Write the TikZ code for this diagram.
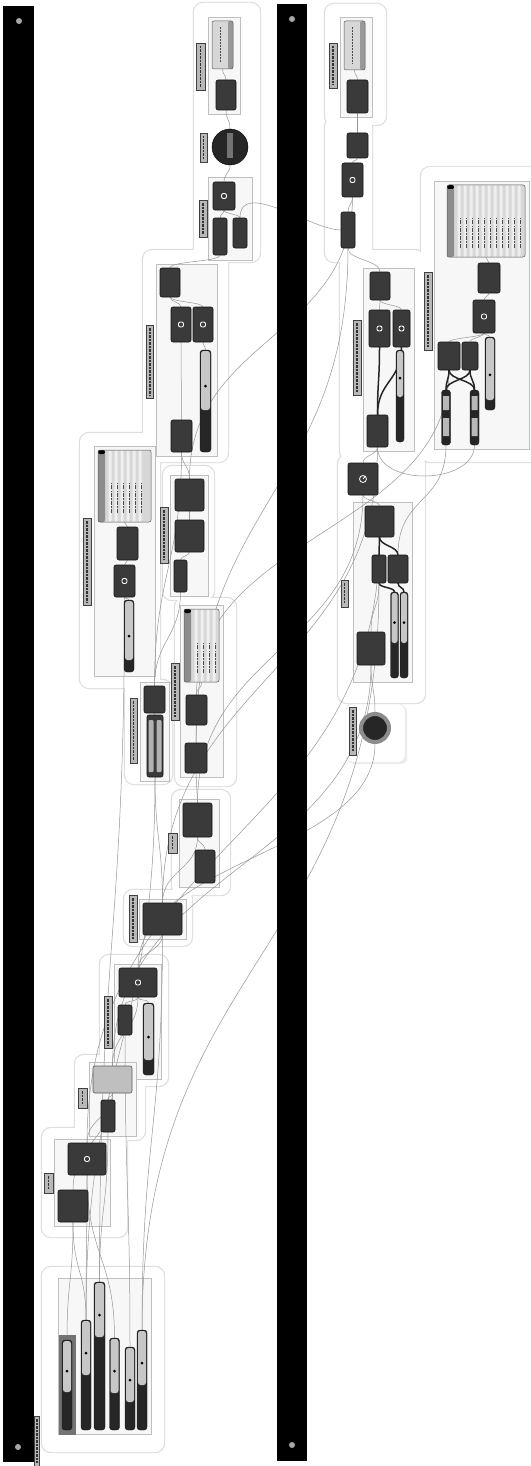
\documentclass[tikz,border=0pt]{standalone}
\usepackage{xcolor}
\usetikzlibrary{fit,shadows}
\definecolor{ghcomp}{RGB}{58,58,58}
\definecolor{ghedge}{RGB}{20,20,20}
\definecolor{ghpanel}{RGB}{215,215,215}
\definecolor{ghwire}{RGB}{150,150,150}
\definecolor{ghline}{RGB}{222,222,222}
\pgfdeclarelayer{bg}
\pgfdeclarelayer{wirelayer}
\pgfdeclarelayer{fore}
\pgfsetlayers{bg,wirelayer,main,fore}

% slider: [width]{name}{x}{top}{split}{bottom}
\newcommand{\gslider}[6][10]{%
  \node[slider, minimum width=#1, minimum height={#6-#4}] (#2) at (#3,{(#4+#6)/2}) {};
  \fill[black!22, rounded corners=2.5pt] ({#3-#1/2+1},{#4+1}) rectangle ({#3+#1/2-1},#5);
  \fill[black] (#3,{#4+(#5-#4)*0.6}) circle (1.5);
}
% wire from output (top of #2) to input (bottom of #3)
\newcommand{\gwire}[3][40]{\draw[wire] (#2.north) .. controls +(0,-#1) and +(0,#1) .. (#3.south);}
\newcommand{\gtwire}[3][10]{\draw[twire] (#2.north) .. controls +(0,-#1) and +(0,#1) .. (#3.south);}
\newcommand{\leftblob}{(194,3) rectangle (260,262) (143,250) rectangle (228,462)
  (80,433) rectangle (160,688) (163,466) rectangle (214,600) (175,598) rectangle (236,786)
  (125,680) rectangle (172,784) (172,790) rectangle (230,895) (124,890) rectangle (192,946)
  (100,955) rectangle (168,1086) (75,1055) rectangle (145,1140) (42,1128) rectangle (127,1237)
  (42,1267) rectangle (164,1452)}
\newcommand{\rightblob}{(325,4) rectangle (386,125) (325,118) rectangle (372,262)
  (340,250) rectangle (424,460) (421,167) rectangle (545,462) (338,455) rectangle (425,703)}

\begin{document}
\begin{tikzpicture}[x=1pt, y=-1pt,
  sz/.style 2 args={minimum width=#1, minimum height=#2},
  comp/.style={draw=ghedge, fill=ghcomp, rounded corners=2pt, inner sep=0pt, outer sep=0pt, line width=.6pt},
  lcomp/.style={comp, fill=black!25, draw=black!65},
  icon/.style={path picture={\draw[white, line width=.9pt]
      ([xshift=-2.5pt,yshift=-2.5pt]path picture bounding box.center) rectangle ++(5pt,5pt);}},
  panel/.style={draw=black!65, fill=ghpanel, rounded corners=2pt, inner sep=0pt, line width=.5pt},
  tpanel/.style={panel, path picture={
      \fill[black!40] ([xshift=-5pt]path picture bounding box.north east) rectangle (path picture bounding box.south east);
      \draw[black!70, line width=1pt, dash pattern=on 2pt off 1pt]
        ([xshift=-2pt,yshift=-6pt]path picture bounding box.north) -- ([xshift=-2pt,yshift=6pt]path picture bounding box.south);}},
  listpanel/.style={panel, path picture={
      \fill[black!45] (path picture bounding box.north west) rectangle ([xshift=7pt]path picture bounding box.south west);
      \fill[black] (path picture bounding box.north west) rectangle ([xshift=7pt,yshift=-4pt]path picture bounding box.north west);
      \foreach \k in {1,...,#1}{
        \fill[white!60!ghpanel] ([xshift=4.5pt+\k*6pt]path picture bounding box.south west) rectangle ([xshift=7.5pt+\k*6pt]path picture bounding box.north west);
        \draw[black!70, line width=.8pt, dash pattern=on 4pt off 1.2pt on 1.5pt off 1.2pt]
          ([xshift=7pt+\k*6pt, yshift=9pt]path picture bounding box.south west) -- ++(0pt,30pt);}}},
  slider/.style={draw=ghedge, fill=black!85, rounded corners=3pt, inner sep=0pt, outer sep=0pt},
  tagbox/.style={draw=black!75, fill=black!28, line width=.5pt, inner sep=0pt, path picture={
      \draw[black!80, line width=1.2pt, dash pattern=on 2.5pt off 1pt]
        ([yshift=-3pt]path picture bounding box.north) -- ([yshift=3pt]path picture bounding box.south);}},
  grp/.style={draw=black!25, fill=black!3, inner sep=4pt, line width=.4pt},
  blob/.style={draw=ghline, line width=2.4pt, rounded corners=9pt},
  wire/.style={draw=ghwire, line width=.5pt},
  twire/.style={draw=black!85, line width=1.5pt}
]
\useasboundingbox (0,0) rectangle (530,1466);

% ---- left canvas, top of the chain
\node[tpanel, sz={21}{48}] (pA) at (222.5,45) {};
\node[comp, sz={20}{30}] (cA) at (226,95) {};
\node[circle, fill=black!85, draw=black, minimum size=36, inner sep=0pt] (cir1) at (230,147) {};
\fill[black!55] (227,133) rectangle (233,158);
\node[comp, icon, sz={22}{28}] (cB1) at (224,196) {};
\node[comp, sz={14}{37}] (cB2) at (220,236.5) {};
\node[comp, sz={14}{30}] (cB3) at (240,233) {};

\node[comp, sz={20}{29}] (cC1) at (170,282.5) {};
\node[comp, icon, sz={20}{35}] (cC2) at (181,324.5) {};
\node[comp, icon, sz={20}{35}] (cC3) at (203,324.5) {};
\node[comp, sz={21}{32}] (cC4) at (181.5,436) {};
\gslider[11]{sC}{205.5}{350}{410}{452}

\node[listpanel=6, sz={53}{72}] (pD) at (124.5,486) {};
\node[comp, sz={21}{33}] (cD1) at (127.5,543.5) {};
\node[comp, icon, sz={21}{32}] (cD2) at (124.5,581) {};
\gslider{sD}{129}{600}{660}{672}

\node[comp, sz={29}{32}] (cE1) at (189.5,495) {};
\node[comp, sz={29}{32}] (cE2) at (189.5,536) {};
\node[comp, sz={13}{32}] (cE3) at (180.5,576) {};

\node[listpanel=4, sz={35}{73}] (pF) at (201.5,645.5) {};
\node[comp, sz={21}{30}] (cF1) at (196.5,710) {};
\node[comp, sz={22}{30}] (cF2) at (196,758) {};

\node[comp, sz={21}{27}] (cG1) at (154.5,699.5) {};
\node[comp, sz={16}{62}] (cG2) at (155,746) {};
\fill[black!30, rounded corners=1pt] (148.5,720) rectangle (153.5,772) (156.5,720) rectangle (161.5,772);

\node[comp, sz={29}{34}] (cH1) at (197.5,820) {};
\node[comp, sz={20}{33}] (cH2) at (205,866.5) {};
\node[comp, sz={39}{32}] (cI1) at (162.5,919) {};

\node[comp, icon, sz={38}{29}] (cJ1) at (138,982.5) {};
\node[comp, sz={14}{30}] (cJ2) at (125,1020) {};
\gslider[11]{sJ}{148.5}{1003}{1060}{1075}

\node[lcomp, sz={39}{27}] (cK1) at (112.5,1079.5) {};
\node[comp, sz={14}{32}] (cK2) at (108,1116) {};
\node[comp, icon, sz={38}{32}] (cL1) at (87,1159) {};
\node[comp, sz={30}{32}] (cL2) at (73,1206) {};

% sliders
\fill[black!55] (59,1335) rectangle (76,1435);
\gslider{s1}{67}{1340}{1392}{1430}
\gslider{s2}{86}{1320}{1375}{1430}
\gslider[11]{s3}{99.5}{1282}{1337}{1430}
\gslider{s4}{114.5}{1338}{1393}{1430}
\gslider{s5}{130}{1347}{1402}{1430}
\gslider{s6}{142}{1330}{1385}{1430}

% ---- right canvas
\node[tpanel, sz={21}{49}] (pR1) at (354.5,45.5) {};
\node[comp, sz={21}{33}] (cR1) at (357.5,96.5) {};
\node[comp, sz={21}{25}] (cR2) at (357.5,145.5) {};
\node[comp, icon, sz={21}{34}] (cR3) at (352.5,180) {};
\node[comp, sz={14}{36}] (cR4) at (348,230) {};

\node[listpanel=11, sz={78}{72}] (pR2) at (486,221) {};
\node[comp, sz={22}{30}] (cR2a) at (489,278) {};
\node[comp, icon, sz={22}{33}] (cR2b) at (484,316.5) {};
\node[comp, sz={22}{28}] (cR2c) at (449,356) {};
\node[comp, sz={16}{28}] (cR2d) at (470,356) {};
\gslider{sR2c}{490}{337}{400}{410}
\node[slider, sz={9}{55}] (sR2a) at (446,417.5) {};
\node[slider, sz={9}{55}] (sR2b) at (474.5,417.5) {};
\fill[black!28] (443,396) rectangle (449,410) (443,418) rectangle (449,436)
  (471.5,396) rectangle (477.5,410) (471.5,418) rectangle (477.5,436);

\node[comp, sz={20}{28}] (cR3a) at (380,286) {};
\node[comp, icon, sz={21}{37}] (cR3b) at (379.5,328.5) {};
\node[comp, icon, sz={17}{37}] (cR3c) at (401.5,328.5) {};
\gslider[8]{sR3}{400}{350}{397}{442}
\node[comp, sz={21}{32}] (cR3d) at (377.5,431) {};
\node[comp, sz={30}{32}] (cGauge) at (363,479) {};
\draw[white, line width=.8pt] (363,479) circle (3.5) (363,479) -- (365.5,476);

\node[comp, sz={29}{31}] (cR4a) at (379.5,521.5) {};
\node[comp, sz={14}{28}] (cR4b) at (379,569) {};
\node[comp, sz={20}{28}] (cR4c) at (398,569) {};
\gslider[8]{sR4a}{394.5}{592}{643}{678}
\gslider[8]{sR4b}{404}{592}{643}{678}
\node[comp, sz={28}{33}] (cR4d) at (371,648.5) {};
\node[circle, fill=black!85, draw=black!45, line width=4pt, minimum size=28, inner sep=0pt] (cir2) at (375,728) {};

% ---- group labels
\node[tagbox, sz={9}{47}] (tA) at (200.5,66.5) {};
\node[tagbox, sz={7}{29}] (tCir) at (203.5,147.5) {};
\node[tagbox, sz={8}{37}] (tB) at (203,218.5) {};
\node[tagbox, sz={7}{73}] (tC) at (150,361.5) {};
\node[tagbox, sz={8}{87}] (tD) at (87,561.5) {};
\node[tagbox, sz={8}{56}] (tE) at (164,535) {};
\node[tagbox, sz={8}{57}] (tF) at (175,691.5) {};
\node[tagbox, sz={7}{65}] (tG) at (133.5,730.5) {};
\node[tagbox, sz={9}{20}] (tH) at (172.5,843) {};
\node[tagbox, sz={8}{47}] (tI) at (133,918.5) {};
\node[tagbox, sz={8}{52}] (tJ) at (108,1022) {};
\node[tagbox, sz={9}{20}] (tK) at (82.5,1098) {};
\node[tagbox, sz={9}{20}] (tL) at (48.5,1183) {};
\node[tagbox, sz={5}{50}] (tZ) at (37,1441) {};
\node[tagbox, sz={8}{45}] (tR1) at (333,65.5) {};
\node[tagbox, sz={8}{78}] (tR2) at (428,311) {};
\node[tagbox, sz={8}{75}] (tR3) at (357,357.5) {};
\node[tagbox, sz={7}{27}] (tR4) at (344.5,593.5) {};
\node[tagbox, sz={7}{48}] (tCir2) at (353,731) {};

% ---- groups
\begin{pgfonlayer}{bg}
  \fill[white] (0,0) rectangle (530,1466);
  \draw[blob] \leftblob;
  \fill[white, rounded corners=9pt] \leftblob;
  \draw[blob] \rightblob;
  \fill[white, rounded corners=9pt] \rightblob;
  \draw[draw=black!12, fill=white, rounded corners=6pt, drop shadow={opacity=.15}] (346,704) rectangle (405,762);
  \node[grp, fit=(pA)(cA)] (gA) {};
  \node[grp, inner sep=5pt, fit=(cB1)(cB2)(cB3)] (gB) {};
  \node[grp, fit=(cC1)(cC2)(cC3)(cC4)(sC)] (gC) {};
  \node[grp, fit=(pD)(cD1)(cD2)(sD)] (gD) {};
  \node[grp, fit=(cE1)(cE2)(cE3)] (gE) {};
  \node[grp, fit=(pF)(cF1)(cF2)] (gF) {};
  \node[grp, fit=(cG1)(cG2)] (gG) {};
  \node[grp, fit=(cH1)(cH2)] (gH) {};
  \node[grp, fit=(cI1)] (gI) {};
  \node[grp, fit=(cJ1)(cJ2)(sJ)] (gJ) {};
  \node[grp, fit=(cK1)(cK2)] (gK) {};
  \node[grp, fit=(cL1)(cL2)] (gL) {};
  \node[grp, fit=(s1)(s2)(s3)(s4)(s5)(s6)] (gM) {};
  \node[grp, fit=(pR1)(cR1)] (gR1) {};
  \node[grp, fit=(pR2)(cR2a)(cR2b)(cR2c)(cR2d)(sR2a)(sR2b)(sR2c)] (gR2) {};
  \node[grp, fit=(cR3a)(cR3b)(cR3c)(sR3)(cR3d)] (gR3) {};
  \node[grp, fit=(cR4a)(cR4b)(cR4c)(sR4a)(sR4b)(cR4d)] (gR4) {};
\end{pgfonlayer}

% ---- wires
\begin{pgfonlayer}{wirelayer}
  \gwire[60]{s1}{cL2}
  \gwire[50]{s2}{cL2}
  \gwire[70]{s2}{cL1}
  \gwire[75]{s3}{cK2}
  \gwire[80]{s4}{cL1}
  \gwire[150]{s5}{cJ2}
  \gwire[190]{s6}{cI1}
  \gwire[270]{s2}{cG2}
  \gwire[340]{s3}{cD2}
  \gwire[45]{cL2}{cK1}
  \gwire[25]{cL1}{cK1}
  \gwire[5]{cK2}{cK1}
  \gwire[35]{cK1}{cJ1}
  \gwire[5]{cJ2}{cJ1}
  \gwire[5]{sJ}{cJ1}
  \gwire[16]{cJ1}{cI1}
  \gwire[33]{cI1}{cH1}
  \gwire[7]{cH2}{cH1}
  \gwire[15]{cH1}{cF2}
  \gwire[9]{cF2}{cF1}
  \gwire[7]{cF1}{pF}
  \gwire[60]{cI1}{cG2}
  \gwire[2]{cG2}{cG1}
  \gwire[45]{cG1}{cE3}
  \gwire[110]{cG1}{cC4}
  \gwire[2]{sD}{cD2}
  \gwire[3]{cD2}{cD1}
  \gwire[3]{cD1}{pD}
  \gwire[4]{cE3}{cE2}
  \gwire[5]{cE2}{cE1}
  \gwire[14]{cE1}{cC4}
  \gwire[38]{cC4}{cC2}
  \gwire[4]{sC}{cC3}
  \gwire[5]{cC2}{cC1}
  \gwire[5]{cC3}{cC1}
  \gwire[7]{cC1}{cB2}
  \gwire[4]{cB2}{cB1}
  \gwire[4]{cB3}{cB1}
  \gwire[8]{cB1}{cir1}
  \gwire[10]{cir1}{cA}
  \gwire[5]{cA}{pA}
  % across the two canvases
  \gwire[200]{cK1}{cR4d}
  \gwire[110]{cJ1}{cir2}
  \gwire[220]{cI1}{cR3d}
  \gwire[150]{cH1}{cGauge}
  \gwire[240]{cF2}{cR4}
  \gwire[300]{cL1}{cR4a}
  \gwire[140]{cE1}{cR3}
  \gwire[160]{cF1}{cR2c}
  \gwire[370]{s6}{cR4b}
  \draw[wire] (cB3.north) .. controls +(0,-40) and +(-30,0) .. (cR4.west);
  % right canvas
  \gwire[5]{cR1}{pR1}
  \gwire[10]{cR2}{cR1}
  \gwire[3]{cR3}{cR2}
  \gwire[7]{cR4}{cR3}
  \gwire[12]{cR3a}{cR4}
  \gwire[5]{cR3b}{cR3a}
  \gwire[5]{cR3c}{cR3a}
  \gtwire[34]{cR3d}{cR3b}
  \gtwire[34]{cR3d}{cR3c}
  \gwire[8]{cGauge}{cR3d}
  \gwire[5]{cR4a}{cGauge}
  \gtwire[9]{cR4b}{cR4a}
  \gtwire[9]{cR4c}{cR4a}
  \gtwire[5]{sR4a}{cR4b}
  \gtwire[5]{sR4b}{cR4c}
  \gwire[25]{cR4d}{cR4b}
  \gwire[23]{cir2}{cR4d}
  \gwire[3]{cR2a}{pR2}
  \gwire[3]{cR2b}{cR2a}
  \gwire[4]{cR2c}{cR2b}
  \gwire[4]{cR2d}{cR2b}
  \gwire[2]{sR2c}{cR2b}
  \gtwire{sR2a}{cR2c}
  \gtwire{sR2a}{cR2d}
  \gtwire{sR2b}{cR2c}
  \gtwire{sR2b}{cR2d}
  \draw[wire] (cR3d.south) .. controls +(0,40) and +(0,40) .. (sR2b.south);
  \draw[wire] (sR2a.south) .. controls +(0,60) and +(0,-60) .. (cR4c.north);
\end{pgfonlayer}

% ---- canvas bars
\begin{pgfonlayer}{fore}
  \fill[black] (3,6) rectangle (34,1462);
  \fill[black] (277,4) rectangle (307,1461);
  \fill[black!35] (19,21) circle (3) (18,1447) circle (3) (292,19) circle (3) (292,1445) circle (3);
\end{pgfonlayer}
\end{tikzpicture}
\end{document}
